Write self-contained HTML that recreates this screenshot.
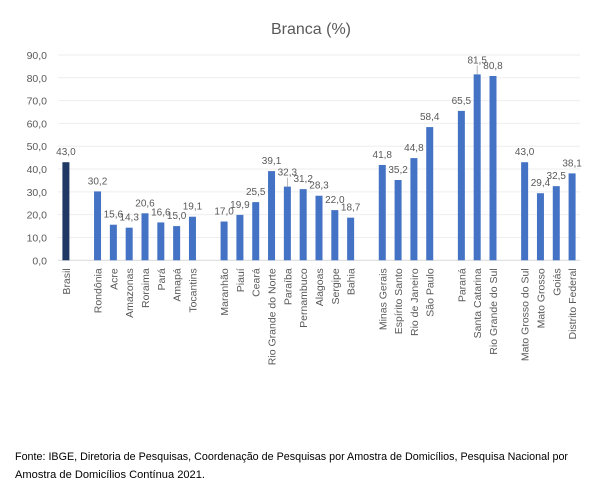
<!DOCTYPE html>
<html><head><meta charset="utf-8"><style>
html,body{margin:0;padding:0;background:#fff;width:604px;height:496px;overflow:hidden}
svg{display:block;font-family:"Liberation Sans",sans-serif}
</style></head><body>
<svg id="chart" width="604" height="496">
<text x="311" y="34" text-anchor="middle" font-size="16" fill="#595959">Branca (%)</text>
<g id="grid"></g><g id="bars"></g>
<text x="15" y="460" font-size="11" fill="#000" textLength="553" lengthAdjust="spacingAndGlyphs">Fonte: IBGE, Diretoria de Pesquisas, Coordenação de Pesquisas por Amostra de Domicílios, Pesquisa Nacional por</text>
<text x="15" y="478" font-size="11" fill="#000" textLength="190" lengthAdjust="spacingAndGlyphs">Amostra de Domicílios Contínua 2021.</text>
</svg>
<script>
const categories = ["Brasil","","Rondônia","Acre","Amazonas","Roraima","Pará","Amapá","Tocantins","","Maranhão","Piauí","Ceará","Rio Grande do Norte","Paraíba","Pernambuco","Alagoas","Sergipe","Bahia","","Minas Gerais","Espírito Santo","Rio de Janeiro","São Paulo","","Paraná","Santa Catarina","Rio Grande do Sul","","Mato Grosso do Sul","Mato Grosso","Goiás","Distrito Federal"];
const values = [43.0,null,30.2,15.6,14.3,20.6,16.6,15.0,19.1,null,17.0,19.9,25.5,39.1,32.3,31.2,28.3,22.0,18.7,null,41.8,35.2,44.8,58.4,null,65.5,81.5,80.8,null,43.0,29.4,32.5,38.1];
const yTicks = [0,10,20,30,40,50,60,70,80,90];
const NS="http://www.w3.org/2000/svg";
const x0=58,x1=580,y0=260.3,yTop=55;
const slot=(x1-x0)/categories.length;
const yS=v=>y0-(v/90)*(y0-yTop);
const xC=i=>x0+slot*(i+0.5);
const fmt=v=>v.toFixed(1).replace('.',',');
const grid=document.getElementById('grid'),bars=document.getElementById('bars');
function mk(tag,attrs,parent,txt){const e=document.createElementNS(NS,tag);for(const k in attrs)e.setAttribute(k,attrs[k]);if(txt!==undefined)e.textContent=txt;parent.appendChild(e);return e;}
yTicks.forEach(t=>{
  const l=mk('line',{x1:x0,x2:x1,y1:yS(t),y2:yS(t),stroke:t===0?'#d9d9d9':'#eeeeee','stroke-width':1},grid);
  
  
  const tx=mk('text',{x:47,y:yS(t)+4,'text-anchor':'end','font-size':10.5,fill:'#595959'},grid,fmt(t));
  
  
});
categories.forEach((c,i)=>{
  const v=values[i];
  if(v===null||c==="")return;
  const cx=xC(i),w=7;
  const r=mk('rect',{x:cx-w/2,y:yS(v),width:w,height:y0-yS(v),fill:i===0?'#1f3864':'#4472c4'},bars);
  
  
  const lead=(c==="Paraíba"||c==="Santa Catarina");
  const ly=yS(v)-(lead?11:7);
  if(lead){const ln=mk('line',{x1:cx,x2:cx,y1:ly+2,y2:yS(v),stroke:'#a6a6a6','stroke-width':0.8},bars);
    
    }
  const vt=mk('text',{x:cx,y:ly,'text-anchor':'middle','font-size':10,fill:'#595959'},bars,fmt(v));
  
  
  const ct=mk('text',{x:0,y:0,'text-anchor':'end','font-size':10.5,fill:'#595959',transform:`translate(${cx+4},${y0+8}) rotate(-90)`},bars,c);
  
  
});
</script>
</body></html>
